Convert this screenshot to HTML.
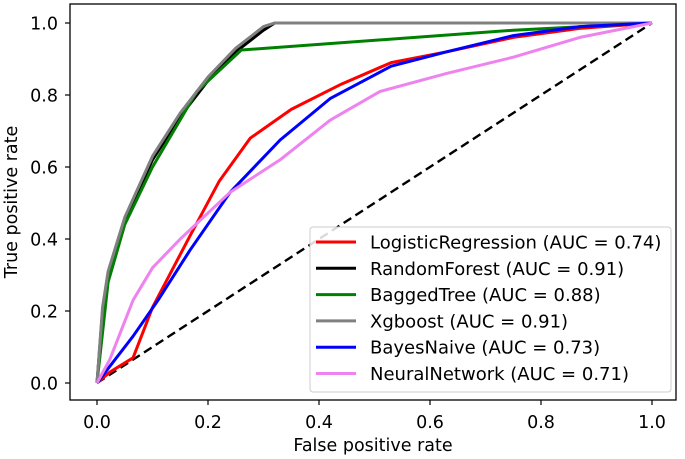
<!DOCTYPE html>
<html><head><meta charset="utf-8"><style>
body{margin:0;background:#fff;}
svg{display:block;font-family:"DejaVu Sans","Liberation Sans",sans-serif;}
</style></head><body>
<svg id="chart" width="685" height="459"></svg>
<script>
const xTicks=[0,0.2,0.4,0.6,0.8,1.0];
const yTicks=[0,0.2,0.4,0.6,0.8,1.0];
const seriesNames=["LogisticRegression","RandomForest","BaggedTree","Xgboost","BayesNaive","NeuralNetwork"];
const seriesColors=["#ff0000","#000000","#008000","#808080","#0000ff","#ee82ee"];
const aucValues=["0.74","0.91","0.88","0.91","0.73","0.71"];
const lrX=[0,0.023,0.065,0.1,0.168,0.22,0.276,0.35,0.44,0.53,0.63,0.75,0.87,1];
const lrY=[0,0.03,0.07,0.21,0.41,0.56,0.68,0.76,0.83,0.89,0.92,0.96,0.985,1];
const rfX=[0,0.01,0.02,0.05,0.1,0.15,0.2,0.25,0.3,0.32,1];
const rfY=[0,0.2,0.3,0.45,0.62,0.74,0.84,0.92,0.98,1,1];
const btX=[0,0.02,0.05,0.1,0.18,0.26,0.75,1];
const btY=[0,0.28,0.44,0.6,0.81,0.925,0.98,1];
const xgX=[0,0.01,0.02,0.05,0.1,0.15,0.2,0.25,0.3,0.32,1];
const xgY=[0,0.21,0.31,0.46,0.63,0.75,0.85,0.93,0.99,1,1];
const bnX=[0,0.02,0.065,0.11,0.168,0.24,0.33,0.42,0.53,0.63,0.75,0.87,1];
const bnY=[0,0.04,0.13,0.23,0.37,0.53,0.675,0.79,0.88,0.92,0.965,0.99,1];
const nnX=[0,0.023,0.065,0.1,0.15,0.24,0.33,0.42,0.51,0.63,0.75,0.87,1];
const nnY=[0,0.065,0.23,0.32,0.40,0.53,0.62,0.73,0.81,0.86,0.905,0.96,1];
const allX=[lrX,rfX,btX,xgX,bnX,nnX];
const allY=[lrY,rfY,btY,xgY,bnY,nnY];

const NS="http://www.w3.org/2000/svg";
const svg=document.getElementById('chart');
const L=70,R=676,T=4,B=400;
const sx=v=>97+v*555;
const sy=v=>383-v*360;
function mk(tag,attrs,parent){const e=document.createElementNS(NS,tag);for(const k in attrs)e.setAttribute(k,attrs[k]);(parent||svg).appendChild(e);return e;}

const frame=mk('rect',{x:L,y:T,width:R-L,height:B-T,fill:'#fff',stroke:'#000','stroke-width':1.3});



xTicks.forEach(t=>{
  const l=mk('line',{x1:sx(t),x2:sx(t),y1:B,y2:B+5,stroke:'#000','stroke-width':1.2});
  
  
  const tx=mk('text',{x:sx(t),y:B+28,'text-anchor':'middle','font-size':17.5});
  tx.textContent=t.toFixed(1);
  
  
});
yTicks.forEach(t=>{
  const l=mk('line',{x1:L-5,x2:L,y1:sy(t),y2:sy(t),stroke:'#000','stroke-width':1.2});
  
  
  const tx=mk('text',{x:L-12,y:sy(t)+6.5,'text-anchor':'end','font-size':17.5});
  tx.textContent=t.toFixed(1);
  
  
});
const xl=mk('text',{x:(L+R)/2,y:451,'text-anchor':'middle','font-size':17.5});
xl.textContent='False positive rate';


const yl=mk('text',{x:0,y:0,'text-anchor':'middle','font-size':17.5,transform:`translate(17,${(T+B)/2}) rotate(-90)`});
yl.textContent='True positive rate';



const diag=mk('line',{x1:sx(0),y1:sy(0),x2:sx(1),y2:sy(1),stroke:'#000','stroke-width':2.4,'stroke-dasharray':'9,5'});



for(let i=0;i<seriesNames.length;i++){
  const pts=allX[i].map((x,j)=>sx(x)+','+sy(allY[i][j])).join(' ');
  const p=mk('polyline',{points:pts,fill:'none',stroke:seriesColors[i],'stroke-width':3,'stroke-linejoin':'round'});
  
  
}

const lg=mk('g',{});


const lb=mk('rect',{x:310,y:227,width:361,height:165,rx:3,fill:'#fff','fill-opacity':0.85,stroke:'#ccc'},lg);


seriesNames.forEach((n,i)=>{
  const y=242+i*26.3;
  const l=mk('line',{x1:316,x2:356,y1:y,y2:y,stroke:seriesColors[i],'stroke-width':3},lg);
  
  
  const t=mk('text',{x:370,y:y+6.5,'font-size':18},lg);
  t.textContent=`${n} (AUC = ${aucValues[i]})`;
  
  
});
</script>
</body></html>
